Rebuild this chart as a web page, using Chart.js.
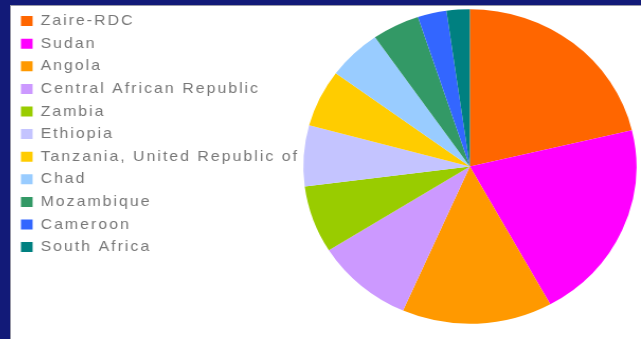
<!DOCTYPE html>
<html>
<head>
<meta charset="utf-8">
<script src="https://cdn.jsdelivr.net/npm/chart.js@4.4.1/dist/chart.umd.min.js"></script>
<style>
    html, body {
        margin: 0;
        padding: 0;
        width: 641px;
        height: 339px;
        overflow: hidden;
        background: #121a78;
    }
    .panel {
        position: absolute;
        left: 10px;
        top: 5px;
        width: 631px;
        height: 334px;
        background: #ffffff;
        border-left: 1px solid #9a9aa8;
        border-top: 1px solid #9a9aa8;
        box-sizing: border-box;
    }
    /* canvas is drawn a bit narrower and stretched to the panel width */
    #countries {
        position: absolute;
        left: 0;
        top: 0;
        width: 631px !important;
        height: 334px !important;
    }
</style>
</head>
<body>
<div class="panel">
    <canvas id="countries" width="596" height="334"></canvas>
</div>
<script>
const countries = [
    'Zaire-RDC',
    'Sudan',
    'Angola',
    'Central African Republic',
    'Zambia',
    'Ethiopia',
    'Tanzania, United Republic of',
    'Chad',
    'Mozambique',
    'Cameroon',
    'South Africa'
]

// share of each country (%)
const shares = [21.3, 20.7, 14.6, 9.5, 6.9, 6.25, 5.9, 5.25, 4.6, 2.8, 2.25]

const sliceColors = [
    '#ff6600', '#ff00ff', '#ff9900', '#cc99ff', '#99cc00', '#c4c4ff',
    '#ffcc00', '#99ccff', '#339966', '#3366ff', '#008080'
]

// wider letters in the legend
const spacing = {
    id: 'spacing',
    beforeLayout(chart) {
        chart.ctx.letterSpacing = '1.9px'
    },
    beforeDraw(chart) {
        chart.ctx.letterSpacing = '1.9px'
    }
}

const pieData = {
    labels: countries,
    datasets: [{
        data: shares,
        backgroundColor: sliceColors,
        borderWidth: 0
    }]
}

const pieConfig = {
    type: 'pie',
    data: pieData,
    options: {
        responsive: false,
        animation: false,
        radius: '98%',
        layout: {
            padding: { top: 0, bottom: 13, left: 1.8, right: 2 }
        },
        plugins: {
            legend: {
                display: true,
                position: 'left',
                align: 'start',
                maxWidth: 271,
                labels: {
                    boxWidth: 11,
                    boxHeight: 10,
                    padding: 7.6,
                    color: '#777777',
                    font: { family: 'Liberation Sans', size: 15 }
                }
            },
            title: { display: false },
            tooltip: { enabled: false }
        }
    },
    plugins: [spacing]
}

const pieChart = new Chart(
    document.getElementById('countries'),
    pieConfig
)
</script>
</body>
</html>
